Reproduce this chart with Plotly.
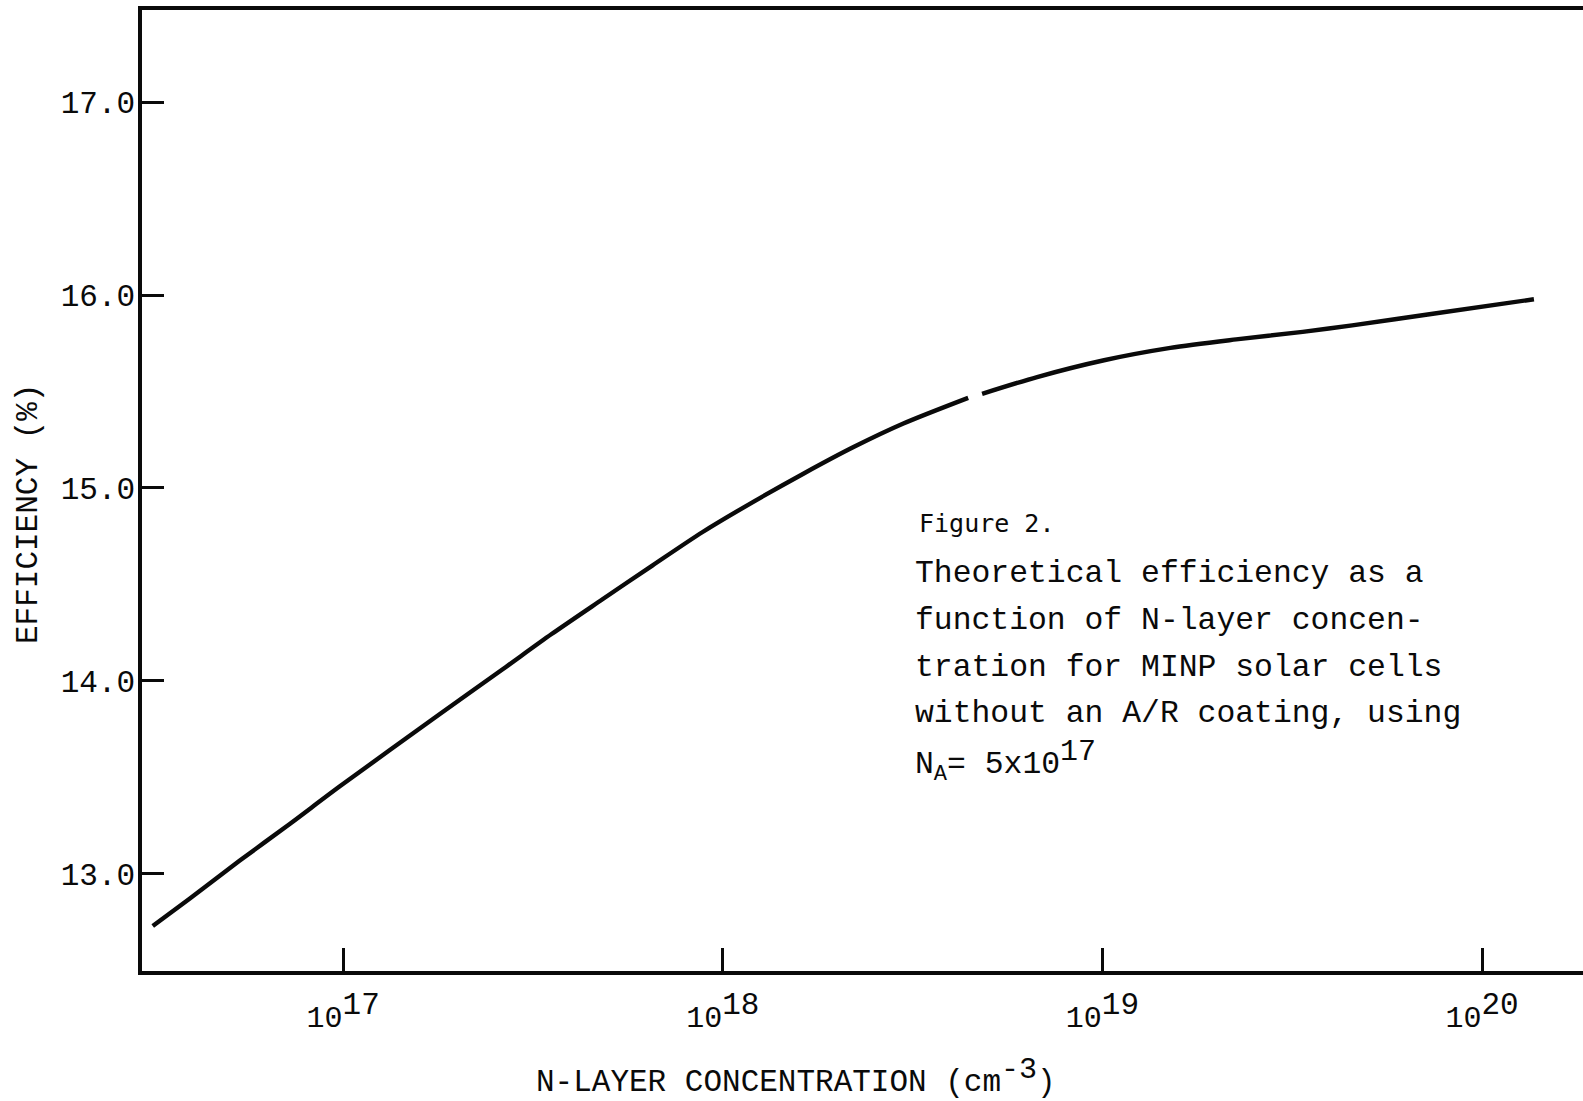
import plotly.graph_objects as go

# N-layer donor concentration (cm^-3) and computed efficiency (%)
# The plotted curve is broken once near 4.5e18, so the two pieces are separated by None.
concentration = [3.15e16, 3.93e16, 5.33e16, 7.23e16, 9.80e16, 1.79e17,
                 2.62e17, 3.54e17, 4.81e17, 6.52e17, 8.85e17, 1.20e18, 1.63e18,
                 2.21e18, 2.99e18, 4.43e18, None,
                 4.82e18, 6.73e18, 1.01e19, 1.51e19, 2.25e19, 3.37e19, 4.55e19,
                 7.50e19, 1.37e20]
efficiency = [12.73, 12.87, 13.068, 13.259, 13.454, 13.826,
              14.058, 14.243, 14.422, 14.598, 14.772, 14.927, 15.074,
              15.212, 15.334, 15.467, None,
              15.488, 15.575, 15.662, 15.726, 15.770, 15.809, 15.843,
              15.904, 15.978]

y_ticks = [13.0, 14.0, 15.0, 16.0, 17.0]
x_ticks = [1e17, 1e18, 1e19, 1e20]
x_tick_exponents = ["17", "18", "19", "20"]

caption_head = "Figure 2."
caption_lines = [
    "Theoretical efficiency as a",
    "function of N-layer concen-",
    "tration for MINP solar cells",
    "without an A/R coating, using",
    "N<sub>A</sub>= 5x10<sup><span style='font-size:30px'>17</span></sup>",
]

W, H = 1583, 1101
L, R, T, B = 142, 0, 10, 130
PW, PH = W - L - R, H - T - B

TYPE = "Liberation Mono"
INK = "#0a0a0a"


def px(x):
    return (x - L) / PW


def py(y):
    return (H - B - y) / PH


fig = go.Figure()
fig.add_trace(go.Scatter(
    x=concentration, y=efficiency, mode="lines",
    line=dict(color=INK, width=4.4, shape="spline", smoothing=0.8),
    connectgaps=False, hoverinfo="skip", showlegend=False,
))

tick_text = ["10<sup><span style='font-size:31px'>%s</span></sup>" % e for e in x_tick_exponents]

fig.update_xaxes(
    type="log", range=[16.47, 20.266],
    tickvals=x_ticks, ticktext=tick_text,
    ticks="inside", ticklen=23, tickwidth=2.5, tickcolor=INK,
    showline=True, linewidth=3.5, linecolor=INK, mirror=True,
    showgrid=False, zeroline=False,
    tickfont=dict(family=TYPE, size=30, color=INK),
    ticklabelstandoff=16,
)
fig.update_yaxes(
    range=[12.497, 17.477],
    tickvals=y_ticks, ticktext=["%.1f" % v for v in y_ticks],
    ticks="inside", ticklen=22, tickwidth=3, tickcolor=INK,
    showline=True, linewidth=3.5, linecolor=INK, mirror=False,
    showgrid=False, zeroline=False,
    tickfont=dict(family=TYPE, size=31, color=INK),
    ticklabelstandoff=-3,
)

annotations = [
    dict(text="EFFICIENCY (%)", x=px(28), y=py(514), xref="paper", yref="paper",
         textangle=-90, showarrow=False, xanchor="center", yanchor="middle",
         font=dict(family=TYPE, size=31, color=INK)),
    dict(text="N-LAYER CONCENTRATION (cm<sup><span style='font-size:30px'>-3</span></sup>)",
         x=px(796), y=py(1076), xref="paper", yref="paper",
         showarrow=False, xanchor="center", yanchor="middle",
         font=dict(family=TYPE, size=31, color=INK)),
    dict(text=caption_head, x=px(917), y=py(524), xref="paper", yref="paper",
         showarrow=False, xanchor="left", yanchor="middle",
         font=dict(family="DejaVu Sans Mono", size=25, color=INK)),
]
for i, line in enumerate(caption_lines):
    annotations.append(dict(
        text=line, x=px(913), y=py(573 + 47 * i), xref="paper", yref="paper",
        showarrow=False, xanchor="left", yanchor="middle",
        font=dict(family=TYPE, size=31.4, color=INK)))

fig.update_layout(
    width=W, height=H, autosize=False,
    margin=dict(l=L, r=R, t=T, b=B),
    paper_bgcolor="white", plot_bgcolor="white",
    annotations=annotations,
)

fig.write_html("out.html")
